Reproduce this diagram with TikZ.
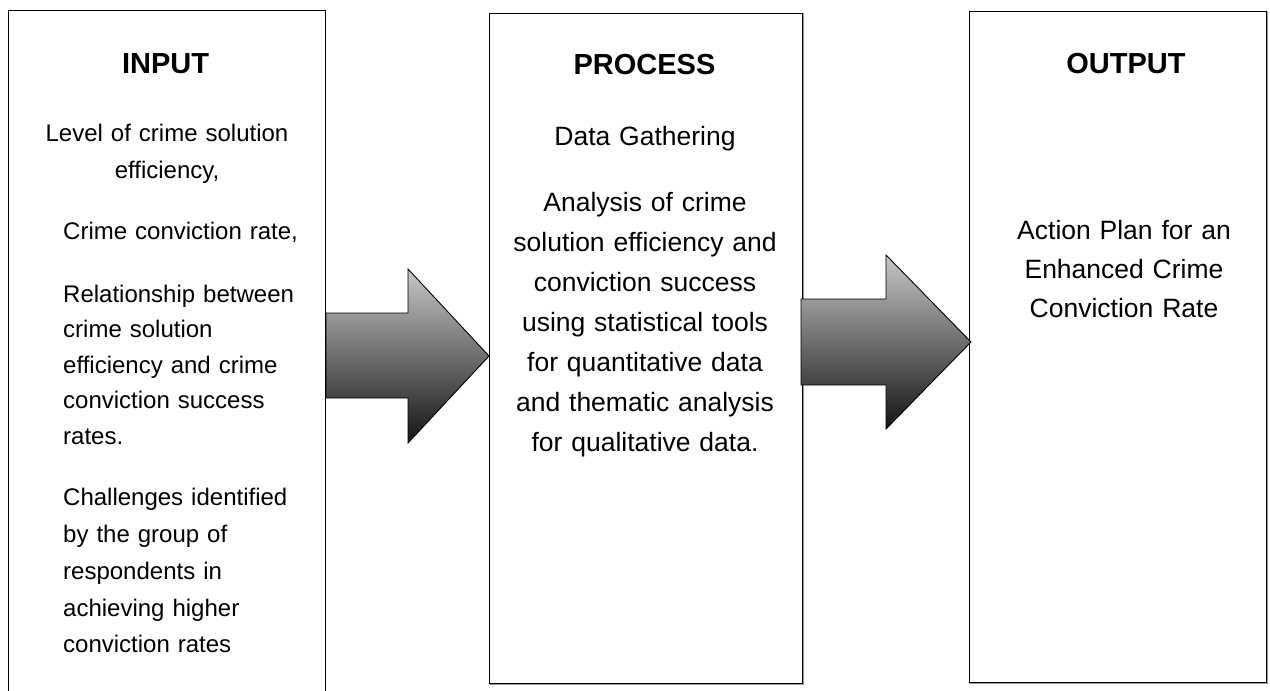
\documentclass[tikz,border=0pt]{standalone}
\usepackage{fontspec}
\setmainfont{Liberation Sans}
\begin{document}
\begin{tikzpicture}[x=1pt,y=-1pt,
  frame/.style={draw=black, line width=1.4pt, fill=white, inner sep=0pt, anchor=north west},
  shadowline/.style={draw=black!40, line width=1.4pt},
  head/.style={font=\fontsize{29}{35}\selectfont\bfseries, inner sep=0pt},
  bodyL/.style={font=\fontsize{24}{36}\selectfont, inner sep=0pt, align=left, text width=250pt, anchor=north west},
  bodyC/.style={font=\fontsize{24}{37}\selectfont, inner sep=0pt, align=center, text width=290pt, anchor=north},
  bodyM/.style={font=\fontsize{26.5}{40}\selectfont, inner sep=0pt, align=center, text width=300pt, anchor=north},
  bigarrow/.style={draw=black, line width=0.9pt, line join=miter, top color=black!22, bottom color=black!92}
]
\path[use as bounding box] (0,0) rectangle (1270,691);
\clip (0,0) rectangle (1270,691);
% shadows
\draw[shadowline] (491,14) rectangle (803.5,684.5);
\draw[shadowline] (971,13) rectangle (1267.5,683.5);
% boxes
\node[frame, minimum width=317pt, minimum height=720pt] (in) at (8,10) {};
\node[frame, minimum width=313pt, minimum height=670.5pt] (proc) at (489,12.5) {};
\node[frame, minimum width=297pt, minimum height=671pt] (out) at (969,11) {};
% arrows
\path[bigarrow] (326,313) -- (408,313) -- (408,269) -- (489,356) -- (408,443) -- (408,398) -- (326,398) -- cycle;
\path[bigarrow] (801,299) -- (886,299) -- (886,255) -- (971,342) -- (886,429) -- (886,385) -- (801,385) -- cycle;
% headings
\node[head] (inh) at (165.5,64) {INPUT};
\node[head] (proch) at (644.5,64.5) {PROCESS};
\node[head] (outh) at (1126,64) {OUTPUT};
% input texts
\node[bodyC] (in1) at (167,115) {\strut Level of crime solution\\efficiency,};
\node[bodyL] (in2) at (63,214) {\strut Crime conviction rate,};
\node[bodyL, font=\fontsize{24}{35.5}\selectfont] (in3) at (63,277) {\strut Relationship between\\crime solution\\efficiency and crime\\conviction success\\rates.};
\node[bodyL, font=\fontsize{24}{36.75}\selectfont] (in4) at (63,480) {\strut Challenges identified\\by the group of\\respondents in\\achieving higher\\conviction rates};
% process texts
\node[bodyM] (p1) at (645,117) {\strut Data Gathering};
\node[bodyM] (p2) at (645,183) {\strut Analysis of crime\\solution efficiency and\\conviction success\\using statistical tools\\for quantitative data\\and thematic analysis\\for qualitative data.};
% output texts
\node[bodyM, font=\fontsize{26.5}{39}\selectfont] (o1) at (1124,212) {\strut Action Plan for an\\Enhanced Crime\\Conviction Rate};
\end{tikzpicture}
\end{document}
